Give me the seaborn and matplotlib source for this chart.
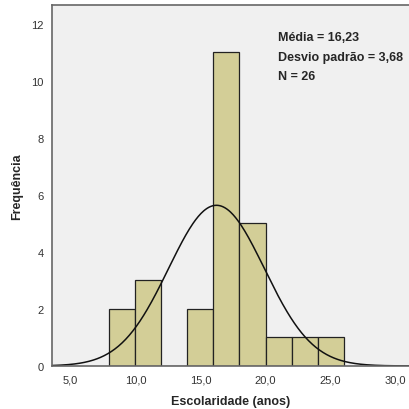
import numpy as np
import pandas as pd
import seaborn as sns
import matplotlib.pyplot as plt

# histogram bins (anos) and counts
bin_edges = [8, 10, 12, 14, 16, 18, 20, 22, 24, 26]
bin_centers = [9, 11, 13, 15, 17, 19, 21, 23, 25]
counts = [2, 3, 0, 2, 11, 5, 1, 1, 1]

media = 16.23
desvio = 3.68
n = 26

x_ticks = [5, 10, 15, 20, 25, 30]
y_ticks = [0, 2, 4, 6, 8, 10, 12]

df = pd.DataFrame({'escolaridade': bin_centers, 'freq': counts})

sns.set_style('white')
plt.rcParams['font.family'] = ['Liberation Sans', 'DejaVu Sans']

fig = plt.figure(figsize=(4.1, 4.1), dpi=100)
ax = fig.add_axes([0.127, 0.105, 0.873, 0.88])
ax.set_facecolor('#f0f0f0')

sns.histplot(data=df, x='escolaridade', weights='freq', bins=bin_edges,
             color='#d3ce97', edgecolor='#222222', linewidth=0.9, alpha=1,
             ax=ax)

# normal curve scaled to counts
xs = np.linspace(3.6, 31.1, 400)
ys = n * 2 / (desvio * np.sqrt(2 * np.pi)) * np.exp(-0.5 * ((xs - media) / desvio) ** 2)
sns.lineplot(x=xs, y=ys, color='#111111', linewidth=1.1, ax=ax)

ax.set_xlim(3.6, 31.1)
ax.set_ylim(0, 12.66)
ax.set_xticks(x_ticks)
ax.set_xticklabels([f'{t:.1f}'.replace('.', ',') for t in x_ticks])
ax.set_yticks(y_ticks)
ax.tick_params(axis='both', direction='out', length=4, width=1,
               colors='#333333', labelsize=8, labelcolor='#333333', pad=2)

for s in ['left', 'bottom', 'top']:
    ax.spines[s].set_color('#666666')
    ax.spines[s].set_linewidth(1.2)
ax.spines['right'].set_visible(False)

ax.set_xlabel('Escolaridade (anos)', fontsize=9, fontweight='bold', labelpad=8)
ax.set_ylabel('Frequência', fontsize=9, fontweight='bold', labelpad=6)

ax.text(0.631, 0.911, f'Média = {media:.2f}'.replace('.', ','),
        transform=ax.transAxes, fontsize=9, fontweight='bold', va='center', ha='left')
ax.text(0.631, 0.856, f'Desvio padrão = {desvio:.2f}'.replace('.', ','),
        transform=ax.transAxes, fontsize=9, fontweight='bold', va='center', ha='left')
ax.text(0.631, 0.803, f'N = {n}', transform=ax.transAxes,
        fontsize=9, fontweight='bold', va='center', ha='left')

plt.savefig('out.png', dpi=100)
